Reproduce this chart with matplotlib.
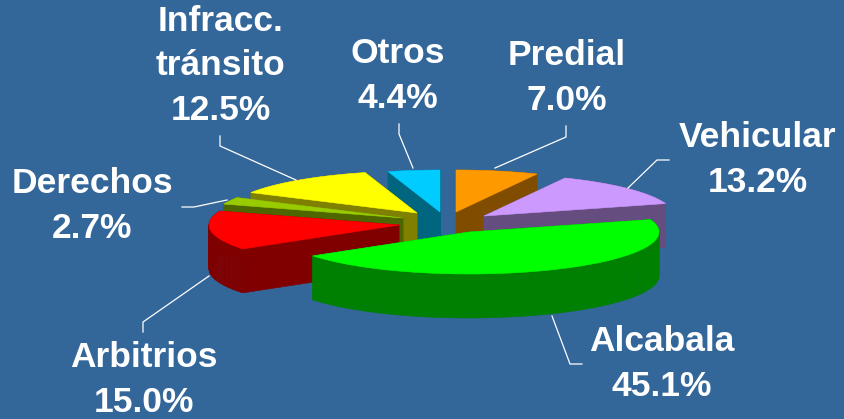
import numpy as np
import matplotlib
matplotlib.use("Agg")
import matplotlib.pyplot as plt

# ---- data (clockwise from 12 o'clock) ----
categories = ["Predial", "Vehicular", "Alcabala", "Arbitrios", "Derechos", "Infracc.\ntránsito", "Otros"]
shares = [7.0, 13.2, 45.1, 15.0, 2.7, 12.5, 4.4]

# ---- styles / layout (pixels of the 845x419 canvas) ----
BG = "#336699"
top_colors = ["#FF9900", "#CC99FF", "#00FF00", "#FF0000", "#99CC00", "#FFFF00", "#00CCFF"]
side_colors = ["#804D00", "#664D80", "#008000", "#800000", "#4D6600", "#808000", "#006680"]
centers = [(456, 212), (484, 216), (469, 232), (399, 225), (403, 218), (417, 213), (440, 212)]
draw_order = [6, 0, 1, 5, 4, 3, 2]
RX, RY, DEPTH = 190, 42, 44
label_pos = [(567, 110), (758, 192), (662, 396), (144, 412), (92, 238), (221, 120), (398, 108)]
leaders = [
    [(566, 126), (566, 137), (495, 168)],
    [(669, 160), (657, 160), (628, 188)],
    [(552, 316), (570, 364), (582, 364)],
    [(143, 332), (143, 322), (209, 276)],
    [(182, 207), (194, 207), (227, 200)],
    [(220, 136), (220, 146), (296, 180)],
    [(399, 124), (399, 134), (413, 168)],
]

fig = plt.figure(figsize=(8.45, 4.19), dpi=100, facecolor=BG)
ax = fig.add_axes([0, 0, 1, 1])
ax.set_xlim(0, 845)
ax.set_ylim(419, 0)
ax.axis("off")

edges = np.cumsum([0] + shares) / sum(shares) * 2 * np.pi


def wedge_outline(i):
    cx, cy = centers[i]
    t = np.linspace(edges[i], edges[i + 1], 60)
    xs = np.r_[cx, cx + RX * np.sin(t)]
    ys = np.r_[cy, cy - RY * np.cos(t)]
    return xs, ys


for i in draw_order:
    xs, ys = wedge_outline(i)
    n = len(xs)
    for k in range(n):
        m = (k + 1) % n
        ax.fill([xs[k], xs[m], xs[m], xs[k]],
                [ys[k], ys[m], ys[m] + DEPTH, ys[k] + DEPTH],
                color=side_colors[i], lw=0.4, zorder=2 + draw_order.index(i))
    ax.fill(xs, ys, color=top_colors[i], lw=0.4, zorder=2 + draw_order.index(i) + 0.5)

for path in leaders:
    px, py = zip(*path)
    ax.plot(px, py, color="white", lw=0.9, zorder=20, solid_joinstyle="miter")

for name, val, (x, y) in zip(categories, shares, label_pos):
    ax.text(x, y, f"{name}\n{val:.1f}%", ha="center", va="baseline", color="white",
            family="Liberation Sans", weight="bold", fontsize=25.5, linespacing=1.45, zorder=30)

fig.savefig("out.png", dpi=100, facecolor=BG)
